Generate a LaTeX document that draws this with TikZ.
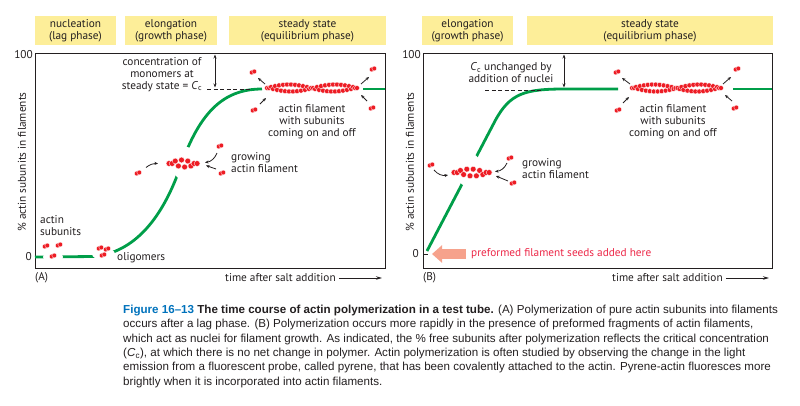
\documentclass[tikz,border=0pt]{standalone}
\usepackage{fontspec}
\setmainfont{Liberation Sans}
\newfontfamily\lblfont{PT Sans}
\usetikzlibrary{arrows.meta}
\definecolor{phaseyellow}{RGB}{253,238,153}
\definecolor{growgreen}{RGB}{0,158,73}
\definecolor{actred}{RGB}{237,28,36}
\definecolor{seedpink}{RGB}{246,162,140}
\definecolor{seedtext}{RGB}{236,40,72}
\definecolor{inkgray}{RGB}{35,31,32}
\definecolor{figblue}{RGB}{0,114,188}

% one actin subunit = two red lobes
\newcommand\subunit[2]{%
  \filldraw[bead] (#1-1.3,#2+0.5) circle (2.4);
  \filldraw[bead] (#1+1.3,#2-0.5) circle (2.4);}
% two strands of beads: start x, mid y, length, half width, steps, twist, radius
\newcommand\filament[7]{%
  \foreach \i in {0,...,#5}{
    \pgfmathsetmacro\bx{#1+\i*#3/#5}
    \pgfmathsetmacro\bxx{\bx+#3/#5/2}
    \pgfmathsetmacro\ya{#2-#4*sin(#6*\i/#5)}
    \pgfmathsetmacro\yb{#2+#4*sin(#6*\i/#5)}
    \filldraw[bead] (\bx,\ya) circle (#7);
    \filldraw[bead] (\bxx,\yb) circle (#7);
  }}

\begin{document}
\begin{tikzpicture}[x=1pt,y=-1pt,
  bead/.style={fill=actred,draw=white,line width=0.3pt},
  lbl/.style={font=\lblfont\fontsize{11.3}{12}\selectfont,text=inkgray,align=center,inner sep=0pt},
  phasebox/.style={lbl,fill=phaseyellow,minimum height=29pt},
  growth/.style={growgreen,line width=2.8pt},
  onoff/.style={inkgray,line width=0.8pt,-{Stealth[length=3.5pt,width=3pt]}},
  level/.style={inkgray,line width=0.8pt,dash pattern=on 4pt off 2.5pt},
  span/.style={inkgray,line width=0.8pt,{Stealth[length=4pt,width=3pt]}-{Stealth[length=4pt,width=3pt]}},
  timeline/.style={inkgray,line width=0.9pt,-{Stealth[length=6pt,width=3.5pt]}}]
\useasboundingbox (0,0) rectangle (800,405);

% ---------- panel A
\node[phasebox,minimum width=81pt] (nucA) at (75.5,30.5) {nucleation\\(lag phase)};
\node[phasebox,minimum width=92pt] (elongA) at (171,30.5) {elongation\\(growth phase)};
\node[phasebox,minimum width=157pt] (steadyA) at (307.5,30.5) {steady state\\(equilibrium phase)};
\draw[inkgray,line width=0.9pt] (35,53) rectangle (385,268);
\node[lbl,anchor=east] (hundredA) at (33,55) {100};
\node[lbl,anchor=east] (zeroA) at (32,257) {0};
\node[lbl,rotate=90] (yA) at (22,162) {\% actin subunits in filaments};
\node[lbl,anchor=west] (tagA) at (35,278) {(A)};
\node[lbl,anchor=west] (timeA) at (225,278) {time after salt addition};
\coordinate (timeAend) at (382,278);
\draw[timeline] ([xshift=3pt]timeA.east) -- (timeAend);

\draw[growth] (35,257) -- (95,256.5) .. controls (140,251) and (165,210) .. (180,168)
  .. controls (200,110) and (225,89) .. (262,89);
\draw[growth] (363,89) -- (385,89);
\fill[white] (53,257) ellipse (10 and 5);
\fill[white] (103.5,254) ellipse (11.5 and 6);
\fill[white] (185,163.5) ellipse (13 and 17);

\subunit{46}{246} \subunit{59}{245} \subunit{53}{256}
\node[lbl,align=left,anchor=west] (subA) at (40,226) {actin\\subunits};
\subunit{100}{248} \subunit{107}{249} \subunit{103}{255}
\node[lbl,anchor=west] (oligo) at (117,258) {oligomers};

\filament{169}{163.5}{25}{3.5}{4}{180}{2.9}
\subunit{138}{173} \subunit{220}{146} \subunit{222}{173}
\coordinate (gAl) at (146,167.5); \coordinate (gAlend) at (158,163.5);
\coordinate (gAu) at (217,153); \coordinate (gAuend) at (205,162.5);
\coordinate (gAd) at (216,169); \coordinate (gAdend) at (206,165.5);
\draw[onoff] (gAl) to[bend left=20] (gAlend);
\draw[onoff] (gAu) to[bend left=30] (gAuend);
\draw[onoff] (gAd) -- (gAdend);
\node[lbl,align=left,anchor=west] (growA) at (231,162.5) {growing\\actin filament};

\node[lbl] (ccA) at (162,74.5) {concentration of\\monomers at\\steady state = \textit{C}\textsubscript{c}};
\coordinate (ccAstart) at (207,89); \coordinate (ccAend) at (250,89);
\draw[level] (ccAstart) -- (ccAend);
\coordinate (topA) at (215,54.5); \coordinate (ssA) at (215,87.5);
\draw[span] (topA) -- (ssA);

\filament{267}{88}{88}{3.5}{22}{360}{2.5}
\subunit{253}{72} \subunit{254}{110} \subunit{373}{69} \subunit{372}{108}
\coordinate (sAul) at (265,84); \coordinate (sAulend) at (258,78);
\coordinate (sAll) at (260,104); \coordinate (sAllend) at (266,98);
\coordinate (sAur) at (361,84); \coordinate (sAurend) at (369,77);
\coordinate (sAlr) at (367,101); \coordinate (sAlrend) at (361,95);
\foreach \n in {ul,ll,ur,lr}
{
	\draw[onoff] (sA\n) -- (sA\n end);
}
\node[lbl] (steadyfilA) at (312,122) {actin filament\\with subunits\\coming on and off};

% ---------- panel B
\node[phasebox,minimum width=91pt] (elongB) at (467.5,30.5) {elongation\\(growth phase)};
\node[phasebox,minimum width=246pt] (steadyB) at (650,30.5) {steady state\\(equilibrium phase)};
\draw[inkgray,line width=0.9pt] (423,53) rectangle (772,268);
\node[lbl,anchor=east] (hundredB) at (421,55) {100};
\node[lbl,anchor=east] (zeroB) at (419,254) {0};
\draw[inkgray,line width=0.9pt] (423,254) -- (428,254);
\node[lbl,rotate=90] (yB) at (410,162) {\% actin subunits in filaments};
\node[lbl,anchor=west] (tagB) at (423,278) {(B)};
\node[lbl,anchor=west] (timeB) at (612,278) {time after salt addition};
\coordinate (timeBend) at (769,278);
\draw[timeline] ([xshift=3pt]timeB.east) -- (timeBend);

\draw[growth] (427,251) -- (495,121) .. controls (510,93) and (525,89) .. (565,89) -- (618,89);
\draw[growth] (733,89) -- (772,89);
\fill[white] (469,170) ellipse (13 and 17);

\filament{454}{172.5}{32}{3.5}{5}{180}{2.9}
\subunit{431}{165} \subunit{510}{158} \subunit{513}{183}
\coordinate (gBl) at (434,170); \coordinate (gBlend) at (448,175);
\coordinate (gBu) at (507,163); \coordinate (gBuend) at (495,171.5);
\coordinate (gBd) at (508,181); \coordinate (gBdend) at (496,176);
\draw[onoff] (gBl) to[bend right=30] (gBlend);
\draw[onoff] (gBu) to[bend left=30] (gBuend);
\draw[onoff] (gBd) -- (gBdend);
\node[lbl,align=left,anchor=west] (growB) at (522,169) {growing\\actin filament};

\node[lbl] (ccB) at (511,72.5) {\textit{C}\textsubscript{c} unchanged by\\addition of nuclei};
\coordinate (ccBstart) at (485,90); \coordinate (ccBend) at (542,90);
\draw[level] (ccBstart) -- (ccBend);
\coordinate (topB) at (564,54.5); \coordinate (ssB) at (564,87.5);
\draw[span] (topB) -- (ssB);

\filament{632}{88}{87}{3.5}{22}{360}{2.5}
\subunit{617}{72} \subunit{618}{110} \subunit{737}{69} \subunit{735}{108}
\coordinate (sBul) at (630,84); \coordinate (sBulend) at (622,78);
\coordinate (sBll) at (623,103); \coordinate (sBllend) at (629,97);
\coordinate (sBur) at (723,84); \coordinate (sBurend) at (731,77);
\coordinate (sBlr) at (732,101); \coordinate (sBlrend) at (725,95);
\foreach \n in {ul,ll,ur,lr}
{
	\draw[onoff] (sB\n) -- (sB\n end);
}
\node[lbl] (steadyfilB) at (673,122) {actin filament\\with subunits\\coming on and off};

\coordinate (seedtail) at (466,254); \coordinate (seedtip) at (432,254);
\draw[seedpink,line width=10pt,-{Triangle[length=10pt,width=17pt]}] (seedtail) -- (seedtip);
\node[lbl,anchor=west,text=seedtext] (seedlbl) at (471,254) {preformed filament seeds added here};

% ---------- caption
\node[anchor=north west,inner sep=0pt,align=left,text=inkgray,
  font=\fontsize{11.6}{14.3}\selectfont] (caption) at (123,305)
  {\textcolor{figblue}{\bfseries Figure 16--13} \textbf{The time course of actin polymerization in a test tube.} (A) Polymerization of pure actin subunits into filaments\\
  occurs after a lag phase. (B) Polymerization occurs more rapidly in the presence of preformed fragments of actin filaments,\\
  which act as nuclei for filament growth. As indicated, the \% free subunits after polymerization reflects the critical concentration\\
  (\textit{C}\textsubscript{c}), at which there is no net change in polymer. Actin polymerization is often studied by observing the change in the light\\
  emission from a fluorescent probe, called pyrene, that has been covalently attached to the actin. Pyrene-actin fluoresces more\\
  brightly when it is incorporated into actin filaments.};
\end{tikzpicture}
\end{document}
